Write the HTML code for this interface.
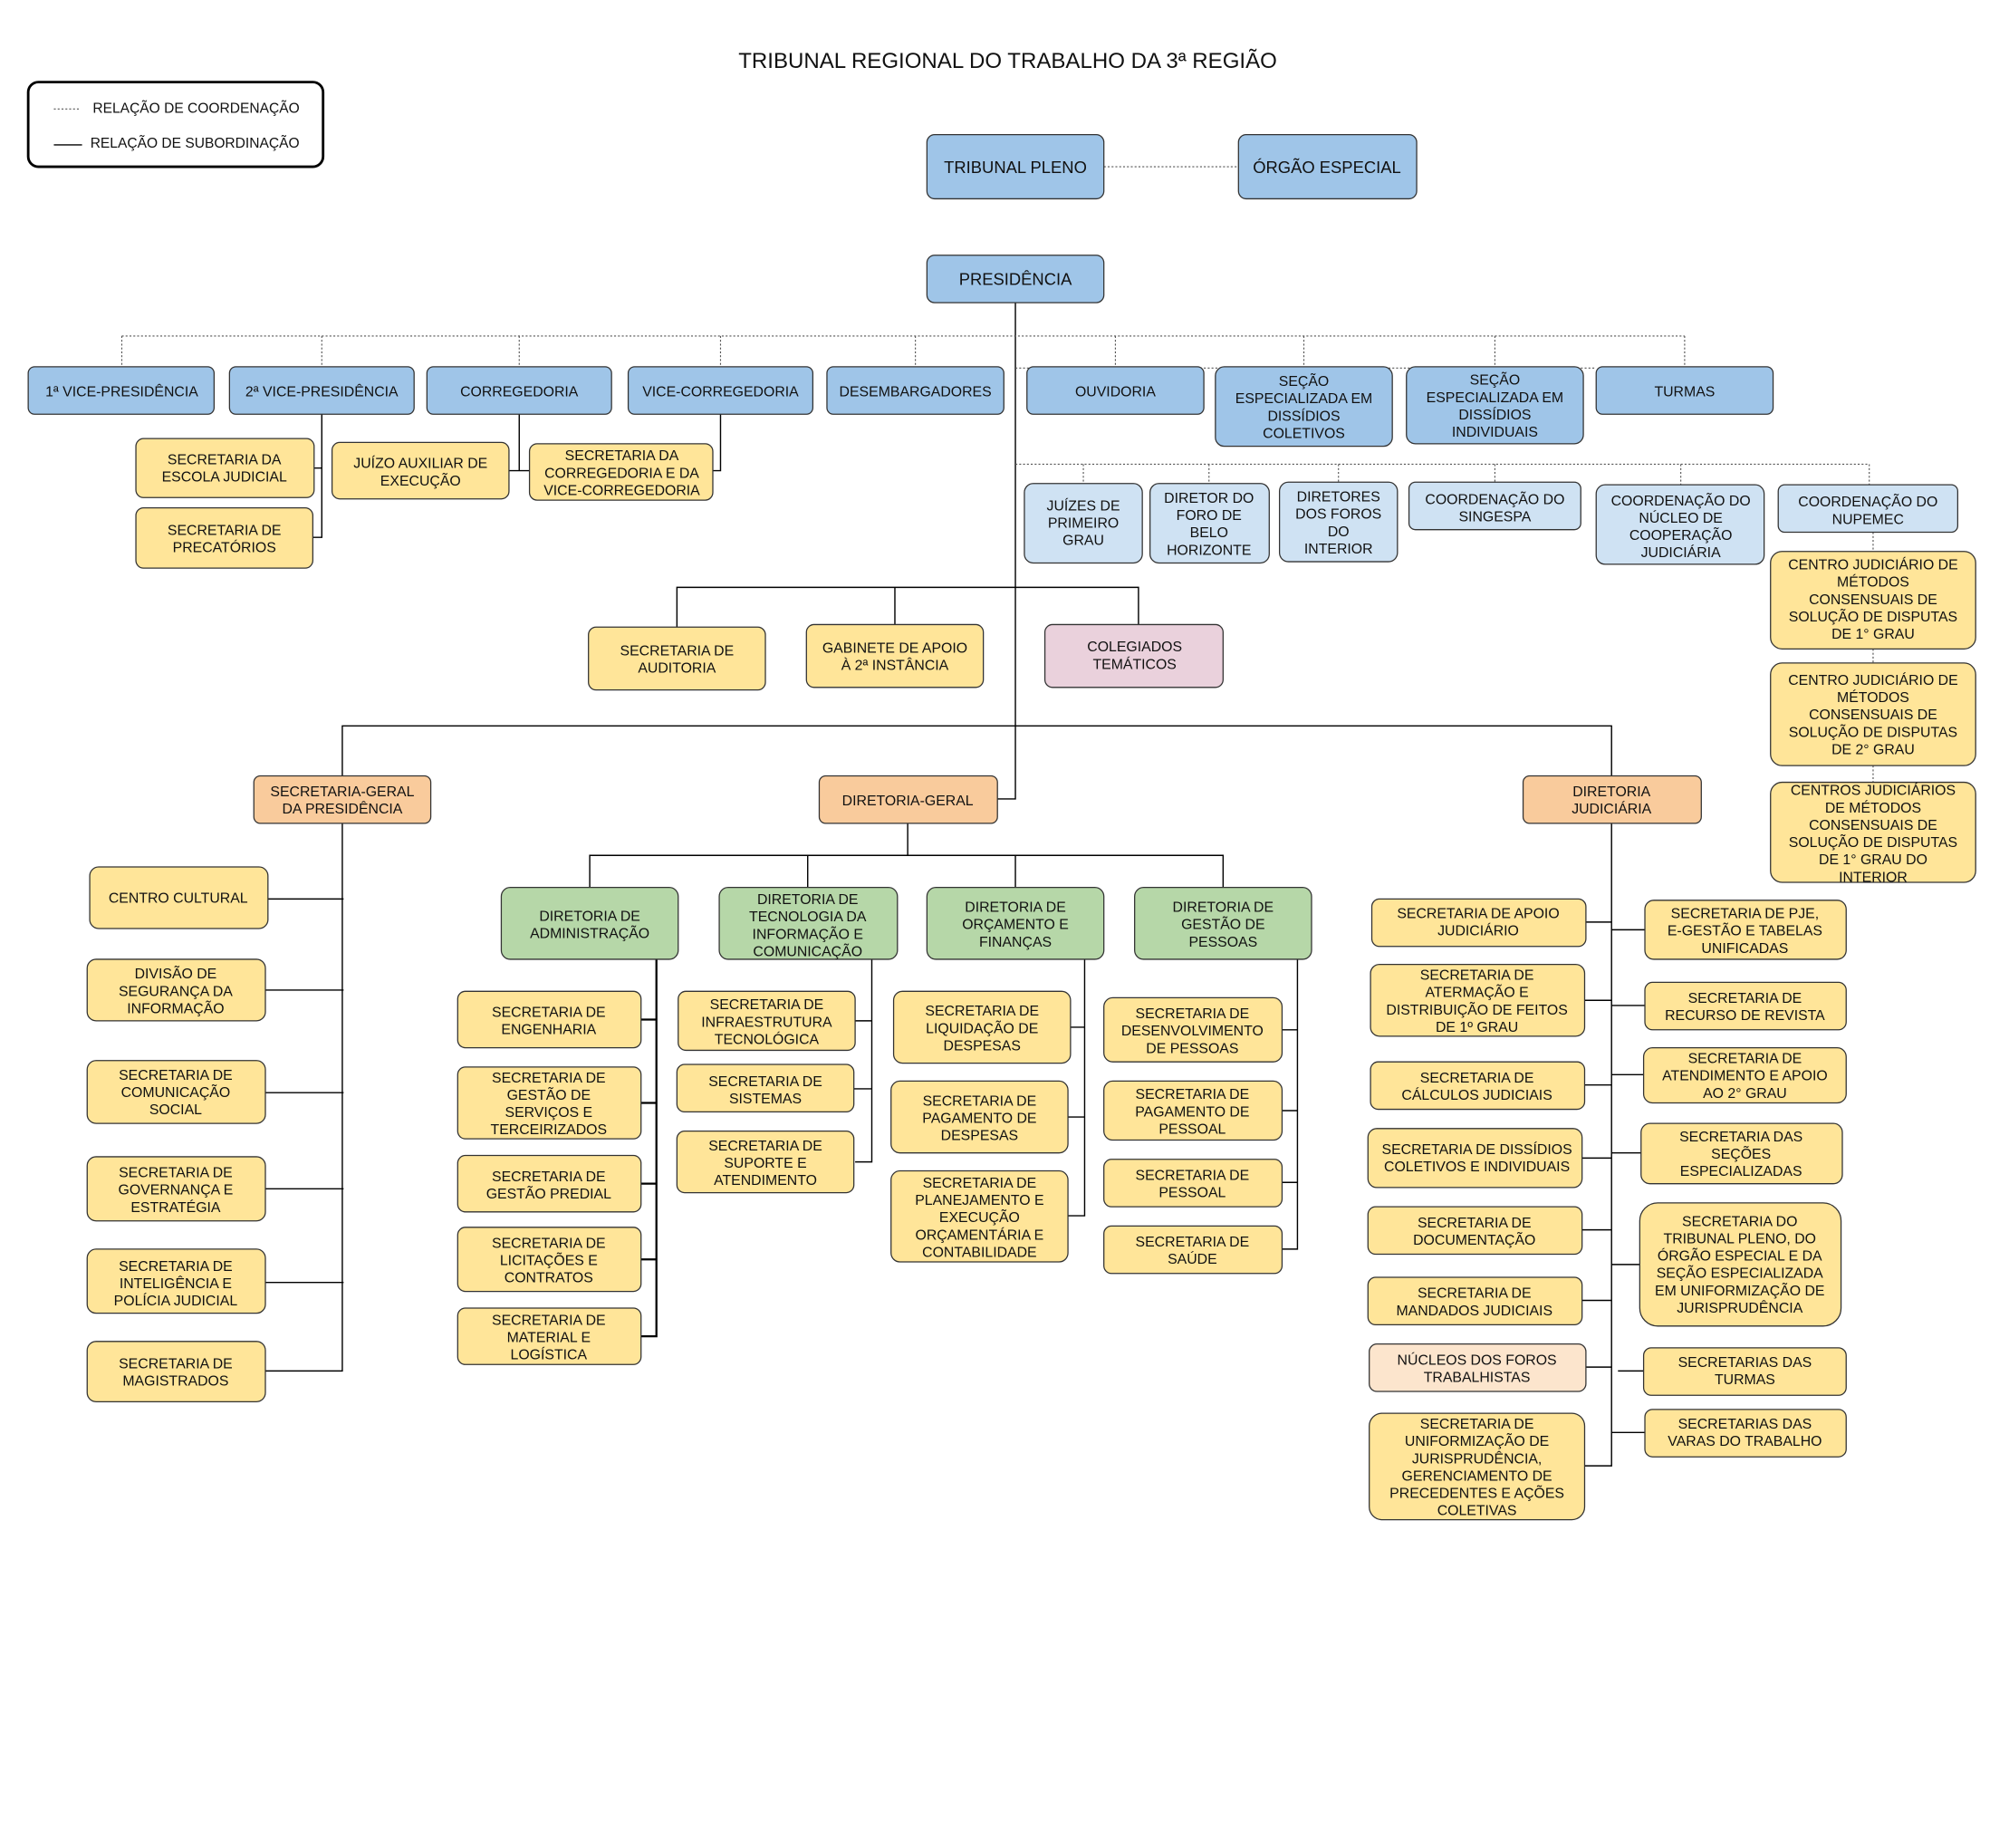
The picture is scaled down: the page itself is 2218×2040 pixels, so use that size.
<!DOCTYPE html>
<html><head><meta charset="utf-8"><style>
html,body{margin:0;padding:0;background:#fff;}
svg{display:block;}
text{font-family:"Liberation Sans",Arial,sans-serif;font-size:11.2px;fill:#111;text-anchor:middle;}
.b{fill:#9fc5e8;stroke:#333;stroke-width:0.9;}
.lb{fill:#cfe2f3;stroke:#333;stroke-width:0.9;}
.y{fill:#ffe599;stroke:#333;stroke-width:0.9;}
.o{fill:#f9cb9c;stroke:#333;stroke-width:0.9;}
.g{fill:#b6d7a8;stroke:#333;stroke-width:0.9;}
.p{fill:#ead1dc;stroke:#333;stroke-width:0.9;}
.lo{fill:#fce5cd;stroke:#333;stroke-width:0.9;}
.s{stroke:#000;stroke-width:1;fill:none;}
.d{stroke:#555;stroke-width:0.8;stroke-dasharray:1.5 1.5;fill:none;}
.big{font-size:13px;}
</style></head><body>
<svg width="2218" height="2040" viewBox="0 0 1567 1441" preserveAspectRatio="none" xmlns="http://www.w3.org/2000/svg">
<rect width="1567" height="1441" fill="#fff"/>
<text x="786" y="53" style="font-size:17px">TRIBUNAL REGIONAL DO TRABALHO DA 3ª REGIÃO</text>
<!-- legend -->
<rect x="22" y="64" width="230" height="66" rx="8" fill="#fff" stroke="#000" stroke-width="2"/>
<line x1="42" y1="85" x2="62" y2="85" class="d"/>
<text x="153" y="88" style="font-size:11px">RELAÇÃO DE COORDENAÇÃO</text>
<line x1="42" y1="113" x2="64" y2="113" class="s"/>
<text x="152" y="115" style="font-size:11px">RELAÇÃO DE SUBORDINAÇÃO</text>

<!-- lines -->
<line x1="861" y1="130" x2="966" y2="130" class="d"/>
<path class="s" d="M792 236 V623 H778"/>
<path class="d" d="M95 262 H1314 M95 262 V286 M251 262 V286 M405 262 V286 M562 262 V286 M714 262 V286 M870 262 V286 M1017 262 V286 M1166 262 V286 M1314 262 V286"/>
<path class="d" d="M792 287 H1245"/>
<path class="d" d="M792 362 H1458 M845 362 V377 M943 362 V377 M1044 362 V376 M1166 362 V376 M1311 362 V378 M1458 362 V378"/>
<path class="d" d="M1461 415 V430 M1461 506 V517 M1461 597 V610"/>
<path class="s" d="M251 323 V419 H244 M251 365 H245"/>
<path class="s" d="M405 323 V367 H413 M397 367 H405"/>
<path class="s" d="M562 323 V367 H556"/>
<path class="s" d="M528 489 V458 H888 V487 M698 458 V487"/>
<path class="s" d="M267 605 V566 H1257 V605"/>
<path class="s" d="M708 642 V667 M460 692 V667 H954 V692 M630 667 V692 M792 667 V692"/>
<!-- sec geral -->
<path class="s" d="M267 642 V1069 H207 M209 701 H268 M207 772 H268 M207 852 H268 M207 927 H268 M207 1000 H268"/>
<!-- admin -->
<path class="s" d="M512 748 V1042 H500 M500 795 H512 M500 860 H512 M500 923 H512 M500 982 H512" style="stroke-width:1.6"/>
<!-- TI -->
<path class="s" d="M680 748 V906 H667 M667 796 H680 M666 849 H680"/>
<!-- orçamento -->
<path class="s" d="M846 748 V948 H833 M835 801 H846 M833 871 H846"/>
<!-- pessoas -->
<path class="s" d="M1012 748 V974 H1000 M1000 803 H1012 M1000 866 H1012 M1000 922 H1012"/>
<!-- judiciaria -->
<path class="s" d="M1257 642 V1143 H1236 M1237 719 H1257 M1236 780 H1257 M1236 846 H1257 M1234 903 H1257 M1234 959 H1257 M1234 1014 H1257 M1237 1066 H1257 M1257 725 H1283 M1257 784 H1283 M1257 838 H1282 M1257 899 H1280 M1257 986 H1279 M1262 1069 H1282 M1257 1117 H1283"/>

<!-- top boxes -->
<rect class="b" x="723" y="105" width="138" height="50" rx="6"/><text class="big" x="792" y="135">TRIBUNAL PLENO</text>
<rect class="b" x="966" y="105" width="139" height="50" rx="6"/><text class="big" x="1035" y="135">ÓRGÃO ESPECIAL</text>
<rect class="b" x="723" y="199" width="138" height="37" rx="6"/><text class="big" x="792" y="222">PRESIDÊNCIA</text>

<rect class="b" x="22" y="286" width="145" height="37" rx="5"/><text x="95" y="309">1ª VICE-PRESIDÊNCIA</text>
<rect class="b" x="179" y="286" width="144" height="37" rx="5"/><text x="251" y="309">2ª VICE-PRESIDÊNCIA</text>
<rect class="b" x="333" y="286" width="144" height="37" rx="5"/><text x="405" y="309">CORREGEDORIA</text>
<rect class="b" x="490" y="286" width="144" height="37" rx="5"/><text x="562" y="309">VICE-CORREGEDORIA</text>
<rect class="b" x="645" y="286" width="138" height="37" rx="5"/><text x="714" y="309">DESEMBARGADORES</text>
<rect class="b" x="801" y="286" width="138" height="37" rx="5"/><text x="870" y="309">OUVIDORIA</text>
<rect class="b" x="948" y="286" width="138" height="62" rx="7"/><text x="1017" y="301"><tspan x="1017">SEÇÃO</tspan><tspan x="1017" dy="13.5">ESPECIALIZADA EM</tspan><tspan x="1017" dy="13.5">DISSÍDIOS</tspan><tspan x="1017" dy="13.5">COLETIVOS</tspan></text>
<rect class="b" x="1097" y="286" width="138" height="60" rx="7"/><text x="1166" y="300"><tspan x="1166">SEÇÃO</tspan><tspan x="1166" dy="13.5">ESPECIALIZADA EM</tspan><tspan x="1166" dy="13.5">DISSÍDIOS</tspan><tspan x="1166" dy="13.5">INDIVIDUAIS</tspan></text>
<rect class="b" x="1245" y="286" width="138" height="37" rx="5"/><text x="1314" y="309">TURMAS</text>

<rect class="y" x="106" y="342" width="139" height="46" rx="6"/><text x="175" y="362"><tspan x="175">SECRETARIA DA</tspan><tspan x="175" dy="13.5">ESCOLA JUDICIAL</tspan></text>
<rect class="y" x="106" y="396" width="138" height="47" rx="6"/><text x="175" y="417"><tspan x="175">SECRETARIA DE</tspan><tspan x="175" dy="13.5">PRECATÓRIOS</tspan></text>
<rect class="y" x="259" y="345" width="138" height="44" rx="6"/><text x="328" y="365"><tspan x="328">JUÍZO AUXILIAR DE</tspan><tspan x="328" dy="13.5">EXECUÇÃO</tspan></text>
<rect class="y" x="413" y="346" width="143" height="44" rx="6"/><text x="485" y="359"><tspan x="485">SECRETARIA DA</tspan><tspan x="485" dy="13.5">CORREGEDORIA E DA</tspan><tspan x="485" dy="13.5">VICE-CORREGEDORIA</tspan></text>

<rect class="lb" x="799" y="377" width="92" height="62" rx="7"/><text x="845" y="398"><tspan x="845">JUÍZES DE</tspan><tspan x="845" dy="13.5">PRIMEIRO</tspan><tspan x="845" dy="13.5">GRAU</tspan></text>
<rect class="lb" x="897" y="377" width="93" height="62" rx="7"/><text x="943" y="392"><tspan x="943">DIRETOR DO</tspan><tspan x="943" dy="13.5">FORO DE</tspan><tspan x="943" dy="13.5">BELO</tspan><tspan x="943" dy="13.5">HORIZONTE</tspan></text>
<rect class="lb" x="998" y="376" width="92" height="62" rx="7"/><text x="1044" y="391"><tspan x="1044">DIRETORES</tspan><tspan x="1044" dy="13.5">DOS FOROS</tspan><tspan x="1044" dy="13.5">DO</tspan><tspan x="1044" dy="13.5">INTERIOR</tspan></text>
<rect class="lb" x="1099" y="376" width="134" height="37" rx="5"/><text x="1166" y="393"><tspan x="1166">COORDENAÇÃO DO</tspan><tspan x="1166" dy="13.5">SINGESPA</tspan></text>
<rect class="lb" x="1245" y="378" width="131" height="62" rx="7"/><text x="1311" y="394"><tspan x="1311">COORDENAÇÃO DO</tspan><tspan x="1311" dy="13.5">NÚCLEO DE</tspan><tspan x="1311" dy="13.5">COOPERAÇÃO</tspan><tspan x="1311" dy="13.5">JUDICIÁRIA</tspan></text>
<rect class="lb" x="1387" y="378" width="140" height="37" rx="5"/><text x="1457" y="395"><tspan x="1457">COORDENAÇÃO DO</tspan><tspan x="1457" dy="13.5">NUPEMEC</tspan></text>

<rect class="y" x="1381" y="430" width="160" height="76" rx="9"/><text x="1461" y="444"><tspan x="1461">CENTRO JUDICIÁRIO DE</tspan><tspan x="1461" dy="13.5">MÉTODOS</tspan><tspan x="1461" dy="13.5">CONSENSUAIS DE</tspan><tspan x="1461" dy="13.5">SOLUÇÃO DE DISPUTAS</tspan><tspan x="1461" dy="13.5">DE 1° GRAU</tspan></text>
<rect class="y" x="1381" y="517" width="160" height="80" rx="9"/><text x="1461" y="534"><tspan x="1461">CENTRO JUDICIÁRIO DE</tspan><tspan x="1461" dy="13.5">MÉTODOS</tspan><tspan x="1461" dy="13.5">CONSENSUAIS DE</tspan><tspan x="1461" dy="13.5">SOLUÇÃO DE DISPUTAS</tspan><tspan x="1461" dy="13.5">DE 2° GRAU</tspan></text>
<rect class="y" x="1381" y="610" width="160" height="78" rx="9"/><text x="1461" y="620"><tspan x="1461">CENTROS JUDICIÁRIOS</tspan><tspan x="1461" dy="13.5">DE MÉTODOS</tspan><tspan x="1461" dy="13.5">CONSENSUAIS DE</tspan><tspan x="1461" dy="13.5">SOLUÇÃO DE DISPUTAS</tspan><tspan x="1461" dy="13.5">DE 1° GRAU DO</tspan><tspan x="1461" dy="13.5">INTERIOR</tspan></text>

<rect class="y" x="459" y="489" width="138" height="49" rx="6"/><text x="528" y="511"><tspan x="528">SECRETARIA DE</tspan><tspan x="528" dy="13.5">AUDITORIA</tspan></text>
<rect class="y" x="629" y="487" width="138" height="49" rx="6"/><text x="698" y="509"><tspan x="698">GABINETE DE APOIO</tspan><tspan x="698" dy="13.5">À 2ª INSTÂNCIA</tspan></text>
<rect class="p" x="815" y="487" width="139" height="49" rx="6"/><text x="885" y="508"><tspan x="885">COLEGIADOS</tspan><tspan x="885" dy="13.5">TEMÁTICOS</tspan></text>

<rect class="o" x="198" y="605" width="138" height="37" rx="5"/><text x="267" y="621"><tspan x="267">SECRETARIA-GERAL</tspan><tspan x="267" dy="13.5">DA PRESIDÊNCIA</tspan></text>
<rect class="o" x="639" y="605" width="139" height="37" rx="5"/><text x="708" y="628">DIRETORIA-GERAL</text>
<rect class="o" x="1188" y="605" width="139" height="37" rx="5"/><text x="1257" y="621"><tspan x="1257">DIRETORIA</tspan><tspan x="1257" dy="13.5">JUDICIÁRIA</tspan></text>

<rect class="g" x="391" y="692" width="138" height="56" rx="7"/><text x="460" y="718"><tspan x="460">DIRETORIA DE</tspan><tspan x="460" dy="13.5">ADMINISTRAÇÃO</tspan></text>
<rect class="g" x="561" y="692" width="139" height="56" rx="7"/><text x="630" y="705"><tspan x="630">DIRETORIA DE</tspan><tspan x="630" dy="13.5">TECNOLOGIA DA</tspan><tspan x="630" dy="13.5">INFORMAÇÃO E</tspan><tspan x="630" dy="13.5">COMUNICAÇÃO</tspan></text>
<rect class="g" x="723" y="692" width="138" height="56" rx="7"/><text x="792" y="711"><tspan x="792">DIRETORIA DE</tspan><tspan x="792" dy="13.5">ORÇAMENTO E</tspan><tspan x="792" dy="13.5">FINANÇAS</tspan></text>
<rect class="g" x="885" y="692" width="138" height="56" rx="7"/><text x="954" y="711"><tspan x="954">DIRETORIA DE</tspan><tspan x="954" dy="13.5">GESTÃO DE</tspan><tspan x="954" dy="13.5">PESSOAS</tspan></text>

<!-- sec geral children -->
<rect class="y" x="70" y="676" width="139" height="48" rx="7"/><text x="139" y="704">CENTRO CULTURAL</text>
<rect class="y" x="68" y="748" width="139" height="48" rx="7"/><text x="137" y="763"><tspan x="137">DIVISÃO DE</tspan><tspan x="137" dy="13.5">SEGURANÇA DA</tspan><tspan x="137" dy="13.5">INFORMAÇÃO</tspan></text>
<rect class="y" x="68" y="827" width="139" height="49" rx="7"/><text x="137" y="842"><tspan x="137">SECRETARIA DE</tspan><tspan x="137" dy="13.5">COMUNICAÇÃO</tspan><tspan x="137" dy="13.5">SOCIAL</tspan></text>
<rect class="y" x="68" y="902" width="139" height="50" rx="7"/><text x="137" y="918"><tspan x="137">SECRETARIA DE</tspan><tspan x="137" dy="13.5">GOVERNANÇA E</tspan><tspan x="137" dy="13.5">ESTRATÉGIA</tspan></text>
<rect class="y" x="68" y="974" width="139" height="50" rx="7"/><text x="137" y="991"><tspan x="137">SECRETARIA DE</tspan><tspan x="137" dy="13.5">INTELIGÊNCIA E</tspan><tspan x="137" dy="13.5">POLÍCIA JUDICIAL</tspan></text>
<rect class="y" x="68" y="1046" width="139" height="47" rx="7"/><text x="137" y="1067"><tspan x="137">SECRETARIA DE</tspan><tspan x="137" dy="13.5">MAGISTRADOS</tspan></text>

<!-- admin -->
<rect class="y" x="357" y="773" width="143" height="44" rx="6"/><text x="428" y="793"><tspan x="428">SECRETARIA DE</tspan><tspan x="428" dy="13.5">ENGENHARIA</tspan></text>
<rect class="y" x="357" y="832" width="143" height="56" rx="6"/><text x="428" y="844"><tspan x="428">SECRETARIA DE</tspan><tspan x="428" dy="13.5">GESTÃO DE</tspan><tspan x="428" dy="13.5">SERVIÇOS E</tspan><tspan x="428" dy="13.5">TERCEIRIZADOS</tspan></text>
<rect class="y" x="357" y="901" width="143" height="44" rx="6"/><text x="428" y="921"><tspan x="428">SECRETARIA DE</tspan><tspan x="428" dy="13.5">GESTÃO PREDIAL</tspan></text>
<rect class="y" x="357" y="957" width="143" height="50" rx="6"/><text x="428" y="973"><tspan x="428">SECRETARIA DE</tspan><tspan x="428" dy="13.5">LICITAÇÕES E</tspan><tspan x="428" dy="13.5">CONTRATOS</tspan></text>
<rect class="y" x="357" y="1020" width="143" height="44" rx="6"/><text x="428" y="1033"><tspan x="428">SECRETARIA DE</tspan><tspan x="428" dy="13.5">MATERIAL E</tspan><tspan x="428" dy="13.5">LOGÍSTICA</tspan></text>

<!-- TI -->
<rect class="y" x="529" y="773" width="138" height="46" rx="6"/><text x="598" y="787"><tspan x="598">SECRETARIA DE</tspan><tspan x="598" dy="13.5">INFRAESTRUTURA</tspan><tspan x="598" dy="13.5">TECNOLÓGICA</tspan></text>
<rect class="y" x="528" y="830" width="138" height="37" rx="6"/><text x="597" y="847"><tspan x="597">SECRETARIA DE</tspan><tspan x="597" dy="13.5">SISTEMAS</tspan></text>
<rect class="y" x="528" y="882" width="138" height="48" rx="6"/><text x="597" y="897"><tspan x="597">SECRETARIA DE</tspan><tspan x="597" dy="13.5">SUPORTE E</tspan><tspan x="597" dy="13.5">ATENDIMENTO</tspan></text>

<!-- orçamento -->
<rect class="y" x="697" y="773" width="138" height="56" rx="7"/><text x="766" y="792"><tspan x="766">SECRETARIA DE</tspan><tspan x="766" dy="13.5">LIQUIDAÇÃO DE</tspan><tspan x="766" dy="13.5">DESPESAS</tspan></text>
<rect class="y" x="695" y="843" width="138" height="56" rx="7"/><text x="764" y="862"><tspan x="764">SECRETARIA DE</tspan><tspan x="764" dy="13.5">PAGAMENTO DE</tspan><tspan x="764" dy="13.5">DESPESAS</tspan></text>
<rect class="y" x="695" y="913" width="138" height="71" rx="7"/><text x="764" y="926"><tspan x="764">SECRETARIA DE</tspan><tspan x="764" dy="13.5">PLANEJAMENTO E</tspan><tspan x="764" dy="13.5">EXECUÇÃO</tspan><tspan x="764" dy="13.5">ORÇAMENTÁRIA E</tspan><tspan x="764" dy="13.5">CONTABILIDADE</tspan></text>

<!-- pessoas -->
<rect class="y" x="861" y="778" width="139" height="50" rx="7"/><text x="930" y="794"><tspan x="930">SECRETARIA DE</tspan><tspan x="930" dy="13.5">DESENVOLVIMENTO</tspan><tspan x="930" dy="13.5">DE PESSOAS</tspan></text>
<rect class="y" x="861" y="843" width="139" height="46" rx="7"/><text x="930" y="857"><tspan x="930">SECRETARIA DE</tspan><tspan x="930" dy="13.5">PAGAMENTO DE</tspan><tspan x="930" dy="13.5">PESSOAL</tspan></text>
<rect class="y" x="861" y="904" width="139" height="37" rx="6"/><text x="930" y="920"><tspan x="930">SECRETARIA DE</tspan><tspan x="930" dy="13.5">PESSOAL</tspan></text>
<rect class="y" x="861" y="956" width="139" height="37" rx="6"/><text x="930" y="972"><tspan x="930">SECRETARIA DE</tspan><tspan x="930" dy="13.5">SAÚDE</tspan></text>

<!-- judiciaria left -->
<rect class="y" x="1070" y="701" width="167" height="37" rx="6"/><text x="1153" y="716"><tspan x="1153">SECRETARIA DE APOIO</tspan><tspan x="1153" dy="13.5">JUDICIÁRIO</tspan></text>
<rect class="y" x="1069" y="752" width="167" height="56" rx="7"/><text x="1152" y="764"><tspan x="1152">SECRETARIA  DE</tspan><tspan x="1152" dy="13.5">ATERMAÇÃO E</tspan><tspan x="1152" dy="13.5">DISTRIBUIÇÃO DE FEITOS</tspan><tspan x="1152" dy="13.5">DE 1º GRAU</tspan></text>
<rect class="y" x="1069" y="828" width="167" height="37" rx="6"/><text x="1152" y="844"><tspan x="1152">SECRETARIA DE</tspan><tspan x="1152" dy="13.5">CÁLCULOS JUDICIAIS</tspan></text>
<rect class="y" x="1067" y="880" width="167" height="46" rx="7"/><text x="1152" y="900"><tspan x="1152">SECRETARIA DE DISSÍDIOS</tspan><tspan x="1152" dy="13.5">COLETIVOS E INDIVIDUAIS</tspan></text>
<rect class="y" x="1067" y="941" width="167" height="37" rx="6"/><text x="1150" y="957"><tspan x="1150">SECRETARIA DE</tspan><tspan x="1150" dy="13.5">DOCUMENTAÇÃO</tspan></text>
<rect class="y" x="1067" y="996" width="167" height="37" rx="6"/><text x="1150" y="1012"><tspan x="1150">SECRETARIA DE</tspan><tspan x="1150" dy="13.5">MANDADOS JUDICIAIS</tspan></text>
<rect class="lo" x="1068" y="1048" width="169" height="37" rx="6"/><text x="1152" y="1064"><tspan x="1152">NÚCLEOS DOS FOROS</tspan><tspan x="1152" dy="13.5">TRABALHISTAS</tspan></text>
<rect class="y" x="1068" y="1102" width="168" height="83" rx="10"/><text x="1152" y="1114"><tspan x="1152">SECRETARIA DE</tspan><tspan x="1152" dy="13.5">UNIFORMIZAÇÃO DE</tspan><tspan x="1152" dy="13.5">JURISPRUDÊNCIA,</tspan><tspan x="1152" dy="13.5">GERENCIAMENTO DE</tspan><tspan x="1152" dy="13.5">PRECEDENTES E AÇÕES</tspan><tspan x="1152" dy="13.5">COLETIVAS</tspan></text>

<!-- judiciaria right -->
<rect class="y" x="1283" y="702" width="157" height="46" rx="7"/><text x="1361" y="716"><tspan x="1361">SECRETARIA DE PJE,</tspan><tspan x="1361" dy="13.5">E-GESTÃO E TABELAS</tspan><tspan x="1361" dy="13.5">UNIFICADAS</tspan></text>
<rect class="y" x="1283" y="766" width="157" height="37" rx="6"/><text x="1361" y="782"><tspan x="1361">SECRETARIA DE</tspan><tspan x="1361" dy="13.5">RECURSO DE REVISTA</tspan></text>
<rect class="y" x="1282" y="817" width="158" height="43" rx="7"/><text x="1361" y="829"><tspan x="1361">SECRETARIA DE</tspan><tspan x="1361" dy="13.5">ATENDIMENTO E APOIO</tspan><tspan x="1361" dy="13.5">AO 2° GRAU</tspan></text>
<rect class="y" x="1280" y="876" width="157" height="47" rx="7"/><text x="1358" y="890"><tspan x="1358">SECRETARIA DAS</tspan><tspan x="1358" dy="13.5">SEÇÕES</tspan><tspan x="1358" dy="13.5">ESPECIALIZADAS</tspan></text>
<rect class="y" x="1279" y="938" width="157" height="96" rx="14"/><text x="1357" y="956"><tspan x="1357">SECRETARIA DO</tspan><tspan x="1357" dy="13.5">TRIBUNAL PLENO, DO</tspan><tspan x="1357" dy="13.5">ÓRGÃO ESPECIAL E DA</tspan><tspan x="1357" dy="13.5">SEÇÃO ESPECIALIZADA</tspan><tspan x="1357" dy="13.5">EM UNIFORMIZAÇÃO DE</tspan><tspan x="1357" dy="13.5">JURISPRUDÊNCIA</tspan></text>
<rect class="y" x="1282" y="1051" width="158" height="37" rx="6"/><text x="1361" y="1066"><tspan x="1361">SECRETARIAS DAS</tspan><tspan x="1361" dy="13.5">TURMAS</tspan></text>
<rect class="y" x="1283" y="1099" width="157" height="37" rx="6"/><text x="1361" y="1114"><tspan x="1361">SECRETARIAS DAS</tspan><tspan x="1361" dy="13.5">VARAS DO TRABALHO</tspan></text>
</svg>
</body></html>
